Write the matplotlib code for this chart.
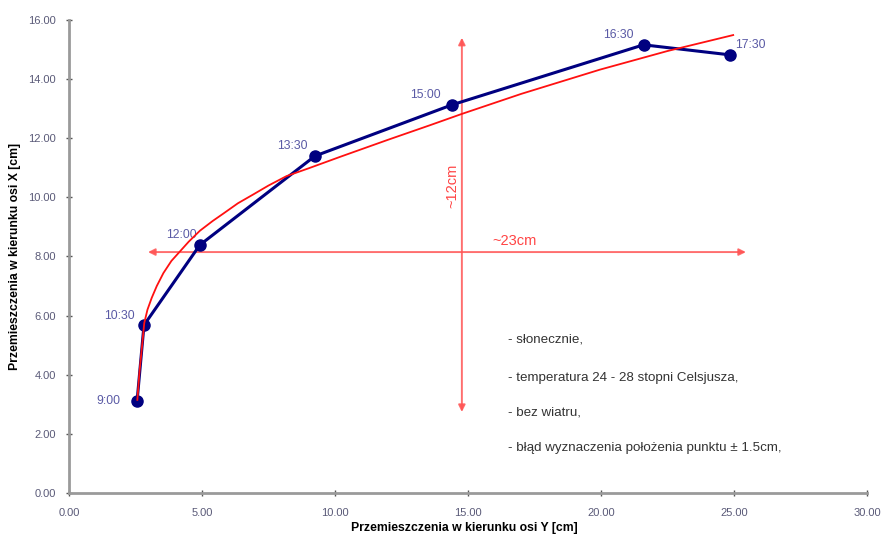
import matplotlib
matplotlib.use("Agg")
import matplotlib.pyplot as plt

plt.rcParams['font.family'] = ['Liberation Sans', 'DejaVu Sans']

# Measured points (Y displacement, X displacement)
times = ["9:00", "10:30", "12:00", "13:30", "15:00", "16:30", "17:30"]
disp_y = [2.56, 2.82, 4.92, 9.25, 14.40, 21.60, 24.85]
disp_x = [3.11, 5.68, 8.39, 11.40, 13.13, 15.16, 14.82]

# Trend curve (red)
trend_y = [2.57, 2.65, 2.75, 2.83, 2.95, 3.11, 3.30, 3.55, 3.85, 4.17, 4.50, 4.92,
           5.40, 5.80, 6.35, 6.93, 7.50, 8.18, 9.00, 10.19, 12.00, 13.57, 14.76,
           17.00, 19.96, 22.50, 24.97]
trend_x = [3.15, 4.10, 5.00, 5.75, 6.20, 6.60, 7.00, 7.44, 7.85, 8.17, 8.50, 8.87,
           9.20, 9.45, 9.80, 10.10, 10.40, 10.72, 10.98, 11.37, 11.95, 12.44, 12.82,
           13.50, 14.32, 14.95, 15.49]

# Annotation arrows
h_arrow_y = 8.15
h_arrow_x = (2.97, 25.45)
v_arrow_x = 14.77
v_arrow_y = (2.74, 15.40)

notes = ["- słonecznie,",
         "- temperatura 24 - 28 stopni Celsjusza,",
         "- bez wiatru,",
         "- błąd wyznaczenia położenia punktu ± 1.5cm,"]
note_y = [5.18, 3.89, 2.71, 1.52]

label_offsets = [(-29, -4), (-29, 2), (-24, 3), (-27, 3), (-30, 3), (-29, 3), (4, 3)]

fig = plt.figure(figsize=(8.81, 5.37), dpi=100)
ax = fig.add_axes([0.0783, 0.0819, 0.9058, 0.8809])

ax.set_xlim(0, 30)
ax.set_ylim(0, 16)
ax.set_xticks([0, 5, 10, 15, 20, 25, 30])
ax.set_yticks([0, 2, 4, 6, 8, 10, 12, 14, 16])
ax.xaxis.set_major_formatter(matplotlib.ticker.FormatStrFormatter('%.2f'))
ax.yaxis.set_major_formatter(matplotlib.ticker.FormatStrFormatter('%.2f'))

for s in ['top', 'right']:
    ax.spines[s].set_visible(False)
for s in ['left', 'bottom']:
    ax.spines[s].set_color('#9a9a9a')
    ax.spines[s].set_linewidth(2.0)
ax.tick_params(axis='both', direction='inout', length=5, width=1, color='#555555',
               labelsize=8, labelcolor='#5a5a78')
ax.tick_params(axis='x', pad=8)
ax.tick_params(axis='y', pad=7)

# arrows
ax.annotate('', xy=(h_arrow_x[0], h_arrow_y), xytext=(h_arrow_x[1], h_arrow_y),
            arrowprops=dict(arrowstyle='<|-|>', color='#ff5555', lw=1.4, alpha=0.85,
                            mutation_scale=10, shrinkA=0, shrinkB=0), zorder=1)
ax.annotate('', xy=(v_arrow_x, v_arrow_y[0]), xytext=(v_arrow_x, v_arrow_y[1]),
            arrowprops=dict(arrowstyle='<|-|>', color='#ff5555', lw=1.4, alpha=0.85,
                            mutation_scale=10, shrinkA=0, shrinkB=0), zorder=1)
ax.text(15.9, 8.3, "~23cm", color='#ff4444', fontsize=10.5, ha='left', va='bottom')
ax.text(14.4, 10.4, "~12cm", color='#ff4444', fontsize=10.5, ha='center', va='center',
        rotation=90)

# data line
ax.plot(disp_y, disp_x, color='#000080', lw=2.2, marker='o', markersize=8,
        markerfacecolor='#000080', markeredgecolor='#000080', zorder=3)
# trend curve
ax.plot(trend_y, trend_x, color='#ff1010', lw=1.3, zorder=4)

for t, xv, yv, off in zip(times, disp_y, disp_x, label_offsets):
    ax.annotate(t, (xv, yv), xytext=off, textcoords='offset points',
                fontsize=8.8, color='#5a5aa5', ha='left', va='bottom')

for n, ny in zip(notes, note_y):
    ax.text(16.5, ny, n, fontsize=9.6, color='#333333', ha='left', va='center')

ax.set_xlabel("Przemieszczenia w kierunku osi Y [cm]", fontsize=8.8, fontweight='bold')
ax.xaxis.set_label_coords(0.496, -0.075)
ax.set_ylabel("Przemieszczenia w kierunku osi X [cm]", fontsize=8.8, fontweight='bold')
ax.yaxis.set_label_coords(-0.068, 0.5)
ax.yaxis.label.set_va('center')
ax.xaxis.label.set_va('center')

fig.savefig("out.png", dpi=100)
